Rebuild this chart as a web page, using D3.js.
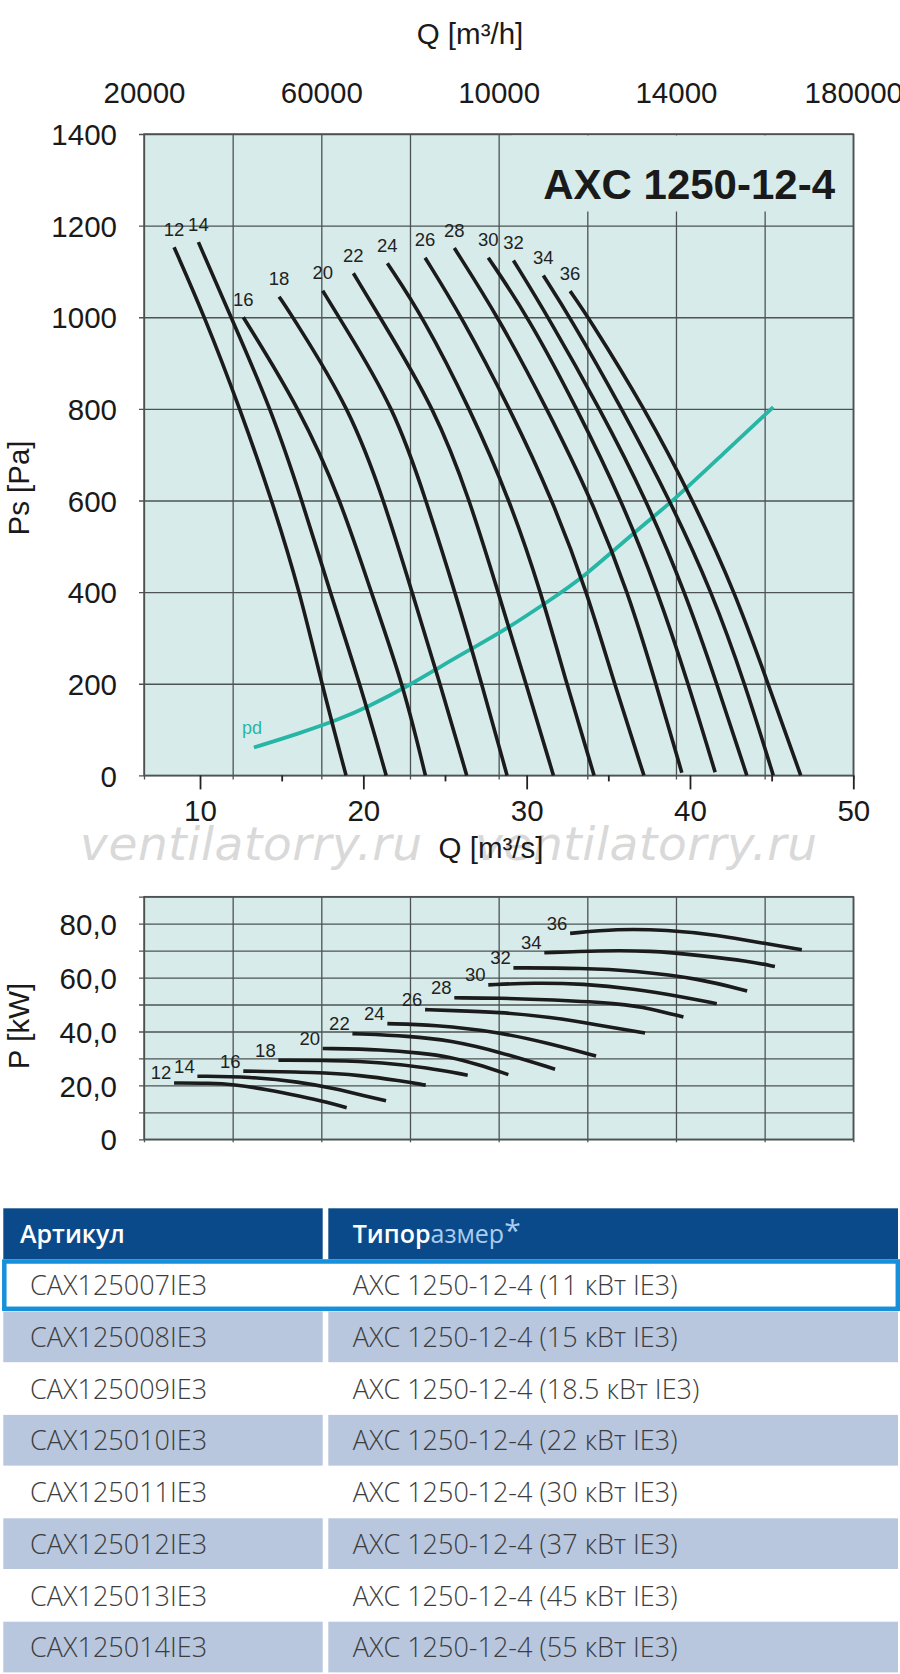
<!DOCTYPE html>
<html>
<head>
<meta charset="utf-8">
<script src="https://cdn.jsdelivr.net/npm/d3@7"></script>
<style>
  body { margin: 0; background: #fff; }
  svg { display: block; }
</style>
</head>
<body>
<svg id="chart" width="900" height="1674"></svg>
<script>
// fan speeds / curve names
const speeds = [12, 14, 16, 18, 20, 22, 24, 26, 28, 30, 32, 34, 36]

// static pressure curves, [Q m3/s, Ps Pa], one per speed
const psCurves = [
  [[8.41, 1153], [10.3, 1000], [12.45, 800], [14.41, 600], [16.12, 400], [17.45, 200], [18.94, 0]],
  [[9.9, 1164], [11.9, 1000], [14.35, 800], [16.25, 600], [17.96, 400], [19.8, 200], [21.4, 0]],
  [[12.65, 1000], [16.12, 800], [18.63, 600], [20.47, 400], [22.43, 200], [23.8, 0]],
  [[14.84, 1045], [15.69, 1000], [19.19, 800], [21.27, 600], [22.98, 400], [24.7, 200], [26.33, 0]],
  [[17.51, 1058], [18.51, 1000], [21.94, 800], [23.84, 600], [25.62, 400], [27.25, 200], [28.8, 0]],
  [[19.39, 1096], [21.02, 1000], [24.39, 800], [26.53, 600], [28.25, 400], [29.96, 200], [31.64, 0]],
  [[21.47, 1118], [23.67, 1000], [26.53, 800], [28.98, 600], [30.88, 400], [32.45, 200], [34.13, 0]],
  [[23.78, 1130], [26.04, 1000], [28.98, 800], [31.6, 600], [33.7, 400], [35.37, 200], [37.18, 0]],
  [[25.57, 1151], [28.27, 1000], [31.25, 800], [34.0, 600], [36.21, 400], [37.92, 200], [39.5, 6]],
  [[27.65, 1130], [30.11, 1000], [33.09, 800], [35.82, 600], [38.04, 400], [39.9, 200], [41.54, 7]],
  [[29.19, 1124], [31.33, 1000], [34.49, 800], [37.35, 600], [39.7, 400], [41.65, 200], [43.48, 0]],
  [[31.02, 1091], [32.66, 1000], [35.84, 800], [38.78, 600], [41.35, 400], [43.37, 200], [45.1, 0]],
  [[32.66, 1057], [33.78, 1000], [37.25, 800], [40.19, 600], [42.76, 400], [44.78, 200], [46.78, 0]]
]

// dynamic pressure line, [Q m3/s, pd Pa]
const pdCurve = [[13.3, 61], [16.1, 92], [18.5, 122], [20.2, 148], [22.9, 198], [24.7, 237], [26.3, 270],
  [28.8, 320], [31.4, 382], [33.5, 433], [36.5, 528], [39.0, 600], [42.0, 701], [45.1, 804]]

// shaft power curves, [Q m3/s, P kW], one per speed
const powerCurves = [
  [[8.41, 20.9], [10.61, 20.9], [12.04, 20.4], [14.08, 18.5], [16.12, 16.0], [17.76, 13.8], [18.98, 11.7]],
  [[9.84, 23.4], [13.06, 23.2], [16.12, 21.3], [18.16, 18.9], [20.2, 16.0], [21.39, 14.3]],
  [[12.65, 25.3], [17.15, 24.9], [19.8, 23.8], [22.25, 21.7], [23.82, 20.1]],
  [[14.8, 29.3], [18.16, 29.3], [21.22, 28.5], [23.88, 26.6], [26.39, 23.8]],
  [[17.51, 33.7], [21.22, 33.3], [23.5, 32.0], [25.3, 30.6], [27.0, 27.8], [28.88, 24.0]],
  [[19.33, 39.2], [22.86, 38.3], [25.3, 36.7], [28.37, 32.4], [31.74, 26.0]],
  [[21.47, 42.9], [24.29, 42.5], [28.31, 39.8], [31.43, 35.5], [34.25, 30.9]],
  [[23.78, 48.1], [25.3, 47.8], [28.31, 47.2], [31.43, 45.4], [34.49, 42.3], [37.25, 39.4]],
  [[25.57, 52.5], [28.31, 52.4], [31.43, 51.8], [35.92, 50.3], [37.56, 48.5], [39.6, 45.4]],
  [[27.65, 57.3], [30.41, 58.1], [33.47, 57.7], [36.53, 55.9], [39.6, 52.8], [41.64, 50.3]],
  [[29.19, 63.6], [33.47, 63.5], [36.53, 62.6], [40.62, 59.6], [43.5, 55.0]],
  [[31.08, 69.2], [34.49, 70.0], [37.56, 70.0], [40.62, 68.2], [43.68, 66.0], [45.2, 64.1]],
  [[32.66, 76.4], [35.52, 78.1], [38.58, 77.7], [41.64, 75.9], [44.7, 72.5], [46.85, 70.3]]
]

// axes
const psTicks = [0, 200, 400, 600, 800, 1000, 1200, 1400]
const qTicks = [10, 20, 30, 40, 50]
const qMinorTicks = [15, 25, 35, 45]
const flowHourGrid = [20000, 40000, 60000, 80000, 100000, 120000, 140000, 160000, 180000]
const flowHourTicks = [20000, 60000, 100000, 140000, 180000]
const flowHourLabels = ["20000", "60000", "10000", "14000", "180000"]
const powerGrid = [0, 10, 20, 30, 40, 50, 60, 70, 80, 90]
const powerTicks = [0, 20, 40, 60, 80]

// table
const articles = ["CAX125007IE3", "CAX125008IE3", "CAX125009IE3", "CAX125010IE3",
  "CAX125011IE3", "CAX125012IE3", "CAX125013IE3", "CAX125014IE3"]
const sizes = ["AXC 1250-12-4 (11 кВт IE3)", "AXC 1250-12-4 (15 кВт IE3)", "AXC 1250-12-4 (18.5 кВт IE3)",
  "AXC 1250-12-4 (22 кВт IE3)", "AXC 1250-12-4 (30 кВт IE3)", "AXC 1250-12-4 (37 кВт IE3)",
  "AXC 1250-12-4 (45 кВт IE3)", "AXC 1250-12-4 (55 кВт IE3)"]

const svg = d3.select("#chart")
const font = "'Liberation Sans', Arial, sans-serif"
const bg = "#d7ecea"
const gridColor = "#4d5352"
const left = 144, right = 853.3
const psTop = 134, psBottom = 775.4
const pTop = 896.7, pBottom = 1139.3
const axisSize = 29.5

const x = d3.scaleLinear().domain([6.57, 50]).range([left, right])
const xh = d3.scaleLinear().domain([20000, 180000]).range([left, right])
const yPs = d3.scaleLinear().domain([0, 1400]).range([psBottom, psTop])
const yP = d3.scaleLinear().domain([0, 90]).range([pBottom, pTop])

const styleAxis = (g, size) => {
  g.select(".domain").remove()
  g.attr("font-family", font).attr("font-size", size)
  g.selectAll("text").attr("fill", "#1a1a1a")
  g.selectAll("line").attr("stroke", gridColor).attr("stroke-width", 1.3)
}

// ---------- pressure chart ----------
svg.append("rect")
  .attr("x", left).attr("y", psTop)
  .attr("width", right - left).attr("height", psBottom - psTop)
  .attr("fill", bg)

svg.append("g")
  .attr("transform", `translate(${left - 5},0)`)
  .call(d3.axisLeft(yPs).tickValues(psTicks).tickSize(-(right - left + 5)).tickPadding(22).tickFormat(d3.format("d")))
  .call(g => styleAxis(g, axisSize))
  .call(g => g.selectAll("text").attr("dy", "0.36em"))

svg.append("g")
  .attr("transform", `translate(0,${psTop})`)
  .call(d3.axisTop(xh).tickValues(flowHourGrid).tickSize(-(psBottom - psTop + 4)).tickFormat(""))
  .call(g => styleAxis(g, axisSize))

svg.append("g")
  .attr("transform", `translate(0,${psTop})`)
  .call(d3.axisTop(xh).tickValues(flowHourTicks).tickSize(0).tickPadding(31)
    .tickFormat((d, i) => flowHourLabels[i]))
  .call(g => styleAxis(g, axisSize))

// box behind the title hides the grid there
svg.append("rect")
  .attr("x", 512).attr("y", psTop + 1.5)
  .attr("width", right - 512 - 1).attr("height", 76)
  .attr("fill", bg)

svg.append("rect")
  .attr("x", left).attr("y", psTop)
  .attr("width", right - left).attr("height", psBottom - psTop)
  .attr("fill", "none").attr("stroke", gridColor).attr("stroke-width", 1.5)

svg.append("g")
  .attr("transform", `translate(0,${psBottom})`)
  .call(d3.axisBottom(x).tickValues(qTicks).tickSize(14).tickPadding(11))
  .call(g => styleAxis(g, axisSize))
  .call(g => g.selectAll("line").attr("stroke", "#222").attr("stroke-width", 1.8))

svg.append("g")
  .attr("transform", `translate(0,${psBottom})`)
  .call(d3.axisBottom(x).tickValues(qMinorTicks).tickSize(6).tickFormat(""))
  .call(g => styleAxis(g, axisSize))
  .call(g => g.selectAll("line").attr("stroke", "#222").attr("stroke-width", 1.8))

svg.append("text")
  .attr("x", 835).attr("y", 199)
  .attr("text-anchor", "end")
  .attr("font-family", font).attr("font-weight", "bold").attr("font-size", 42)
  .attr("fill", "#1a1a1a")
  .text("AXC 1250-12-4")

const psLine = d3.line().x(d => x(d[0])).y(d => yPs(d[1])).curve(d3.curveBasis)
const pLine = d3.line().x(d => x(d[0])).y(d => yP(d[1])).curve(d3.curveBasis)

svg.append("path")
  .datum(pdCurve)
  .attr("d", psLine)
  .attr("fill", "none").attr("stroke", "#27b5a6").attr("stroke-width", 3.8)

svg.append("text")
  .attr("x", x(pdCurve[0][0]) - 2).attr("y", yPs(pdCurve[0][1]) - 13)
  .attr("text-anchor", "middle")
  .attr("font-family", font).attr("font-size", 18).attr("fill", "#27b5a6")
  .text("pd")

svg.append("g")
  .selectAll("path")
  .data(psCurves)
  .enter()
  .append("path")
  .attr("d", psLine)
  .attr("fill", "none").attr("stroke", "#1b1b1b").attr("stroke-width", 3.6)

svg.append("g")
  .selectAll("text")
  .data(psCurves)
  .enter()
  .append("text")
  .attr("x", d => x(d[0][0]))
  .attr("y", d => yPs(d[0][1]) - 11.5)
  .attr("text-anchor", "middle")
  .attr("font-family", font).attr("font-size", 18.5).attr("fill", "#222")
  .text((d, i) => speeds[i])

// watermark sits under the axis title
const watermark = svg.append("g")
  .attr("font-family", "'DejaVu Sans', sans-serif").attr("font-style", "italic")
  .attr("font-size", 47).attr("fill", "#d9d9d9")
watermark.append("text").attr("x", 80).attr("y", 860).attr("textLength", 342).text("ventilatorry.ru")
watermark.append("text").attr("x", 475).attr("y", 860).attr("textLength", 342).text("ventilatorry.ru")

svg.append("text")
  .attr("x", 470).attr("y", 44)
  .attr("text-anchor", "middle")
  .attr("font-family", font).attr("font-size", axisSize).attr("fill", "#1a1a1a")
  .text("Q [m³/h]")

svg.append("text")
  .attr("x", 491).attr("y", 858)
  .attr("text-anchor", "middle")
  .attr("font-family", font).attr("font-size", axisSize).attr("fill", "#1a1a1a")
  .text("Q [m³/s]")

svg.append("text")
  .attr("transform", "translate(29,488) rotate(-90)")
  .attr("text-anchor", "middle")
  .attr("font-family", font).attr("font-size", axisSize).attr("fill", "#1a1a1a")
  .text("Ps [Pa]")

// ---------- power chart ----------
svg.append("rect")
  .attr("x", left).attr("y", pTop)
  .attr("width", right - left).attr("height", pBottom - pTop)
  .attr("fill", bg)

svg.append("g")
  .attr("transform", `translate(${left - 5},0)`)
  .call(d3.axisLeft(yP).tickValues(powerGrid).tickSize(-(right - left + 5)).tickPadding(22)
    .tickFormat(d => powerTicks.includes(d) ? (d === 0 ? "0" : d.toFixed(1).replace(".", ",")) : ""))
  .call(g => styleAxis(g, axisSize))
  .call(g => g.selectAll("text").attr("dy", "0.36em"))

svg.append("g")
  .attr("transform", `translate(0,${pTop})`)
  .call(d3.axisTop(xh).tickValues(flowHourGrid).tickSize(-(pBottom - pTop + 3)).tickFormat(""))
  .call(g => styleAxis(g, axisSize))

svg.append("rect")
  .attr("x", left).attr("y", pTop)
  .attr("width", right - left).attr("height", pBottom - pTop)
  .attr("fill", "none").attr("stroke", gridColor).attr("stroke-width", 1.5)

svg.append("g")
  .selectAll("path")
  .data(powerCurves)
  .enter()
  .append("path")
  .attr("d", pLine)
  .attr("fill", "none").attr("stroke", "#1b1b1b").attr("stroke-width", 3.6)

svg.append("g")
  .selectAll("text")
  .data(powerCurves)
  .enter()
  .append("text")
  .attr("x", d => x(d[0][0]) - 13)
  .attr("y", d => yP(d[0][1]) - 3.5)
  .attr("text-anchor", "middle")
  .attr("font-family", font).attr("font-size", 18.5).attr("fill", "#222")
  .text((d, i) => speeds[i])

svg.append("text")
  .attr("transform", "translate(29,1026) rotate(-90)")
  .attr("text-anchor", "middle")
  .attr("font-family", font).attr("font-size", axisSize).attr("fill", "#1a1a1a")
  .text("P [kW]")

// ---------- table ----------
const tFont = "'Open Sans', 'Noto Sans', sans-serif"
const tTop = 1208.3, headH = 51, rowH = 51.7
const col1 = [3.3, 322.7], col2 = [328.3, 898]

svg.append("rect").attr("x", col1[0]).attr("y", tTop).attr("width", col1[1] - col1[0]).attr("height", headH).attr("fill", "#0b4a8a")
svg.append("rect").attr("x", col2[0]).attr("y", tTop).attr("width", col2[1] - col2[0]).attr("height", headH).attr("fill", "#0b4a8a")

svg.append("text")
  .attr("x", 20).attr("y", tTop + 35)
  .attr("font-family", tFont).attr("font-weight", 600).attr("font-size", 25).attr("fill", "#fff")
  .text("Артикул")

const h2 = svg.append("text")
  .attr("x", 352.7).attr("y", tTop + 35)
  .attr("font-family", tFont).attr("font-size", 25)
h2.append("tspan").attr("font-weight", 600).attr("fill", "#fff").text("Типор")
h2.append("tspan").attr("fill", "#a9cdee").text("азмер")
h2.append("tspan").attr("fill", "#a9cdee").attr("font-size", 30).attr("dy", -2).text("*")

const rows = svg.append("g")
  .selectAll("g")
  .data(articles)
  .enter()
  .append("g")
  .attr("transform", (d, i) => `translate(0,${tTop + headH + i * rowH})`)

rows.filter((d, i) => i % 2 === 1)
  .each(function () {
    const g = d3.select(this)
    g.append("rect").attr("x", col1[0]).attr("y", 0.5).attr("width", col1[1] - col1[0]).attr("height", rowH - 1).attr("fill", "#b8c6de")
    g.append("rect").attr("x", col2[0]).attr("y", 0.5).attr("width", col2[1] - col2[0]).attr("height", rowH - 1).attr("fill", "#b8c6de")
  })

rows.append("text")
  .attr("x", 30).attr("y", 36)
  .attr("font-family", tFont).attr("font-weight", 300).attr("font-size", 27).attr("fill", "#3d3d3d")
  .text(d => d)

rows.append("text")
  .attr("x", 352.7).attr("y", 36)
  .attr("font-family", tFont).attr("font-weight", 300).attr("font-size", 27).attr("fill", "#3d3d3d")
  .text((d, i) => sizes[i])

// highlighted first row
svg.append("rect")
  .attr("x", 4.3).attr("y", tTop + headH + 2.2)
  .attr("width", 893.5).attr("height", rowH - 4.4)
  .attr("fill", "none").attr("stroke", "#1790dc").attr("stroke-width", 4.5)
</script>
</body>
</html>
